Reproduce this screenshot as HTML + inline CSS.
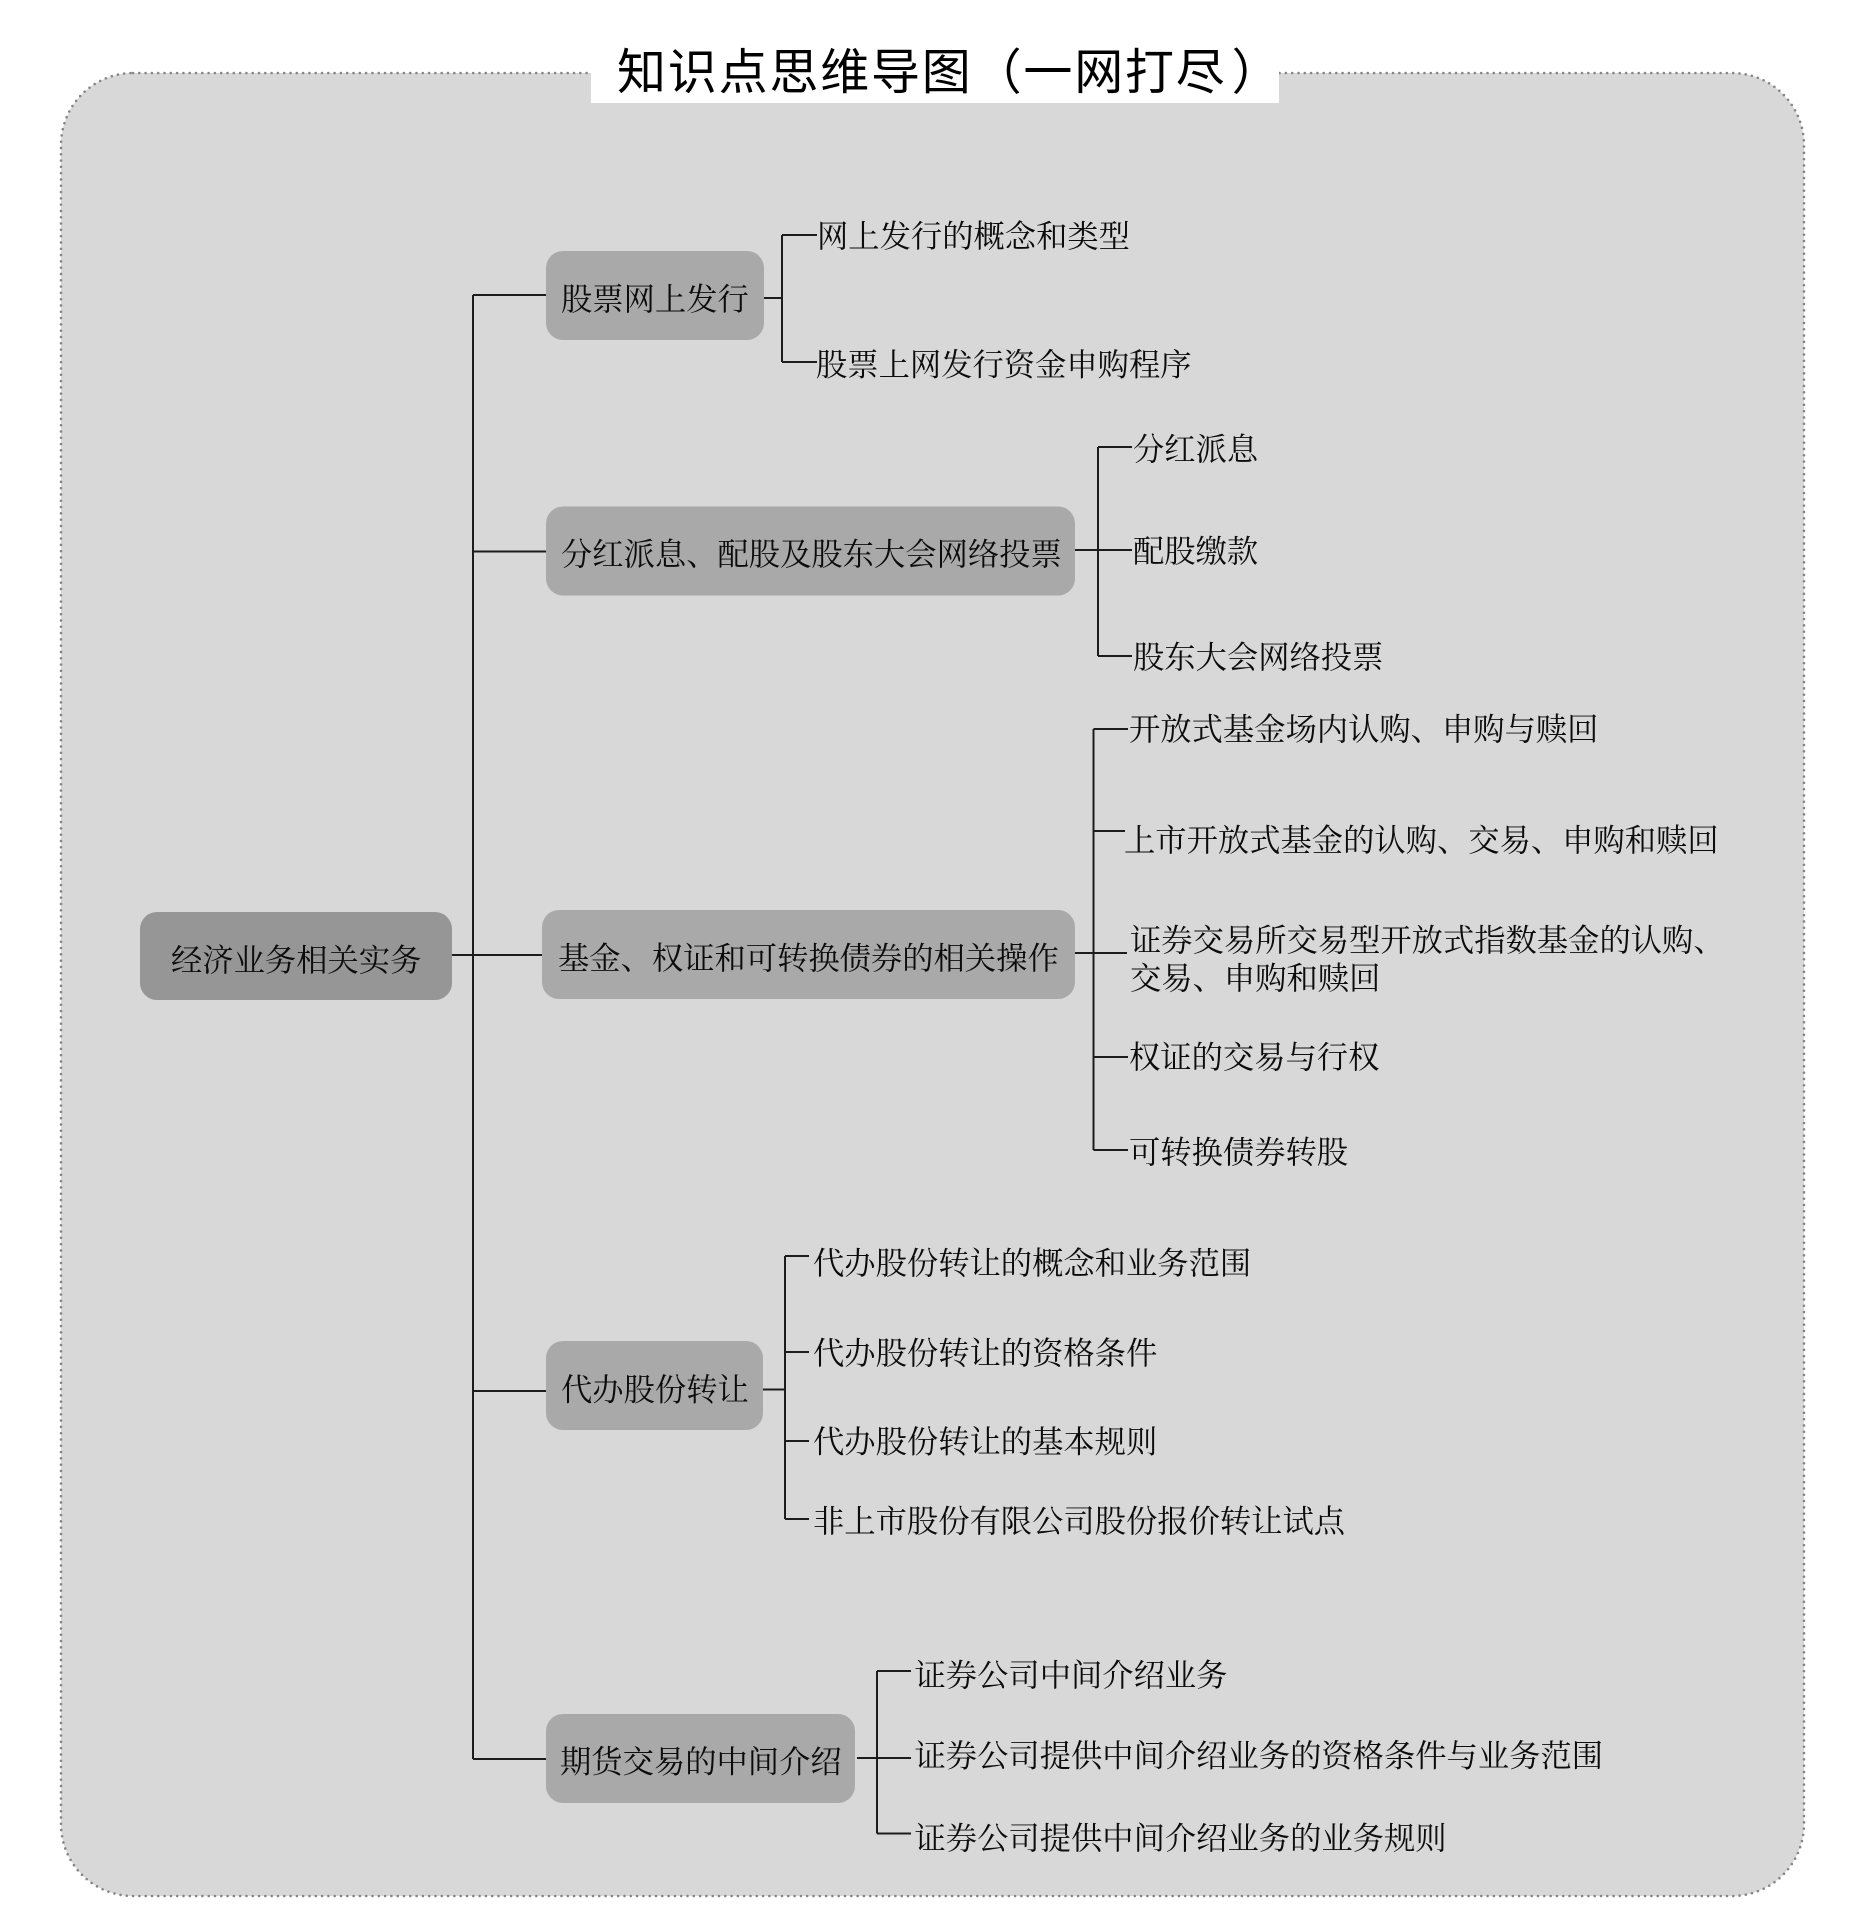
<!DOCTYPE html>
<html lang="zh-CN">
<head>
<meta charset="utf-8">
<title>知识点思维导图（一网打尽）</title>
<style>
html,body{margin:0;padding:0;background:#fff;width:1849px;height:1925px;overflow:hidden}
svg{display:block}
text{font-family:"Liberation Serif","Noto Serif CJK SC",serif;font-size:31.3px;fill:#0c0c0c}
.t{font-family:"Liberation Sans","Noto Sans CJK SC",sans-serif;font-size:49px;letter-spacing:1.8px;fill:#000}
.l{stroke:#1c1c1c;stroke-width:2;fill:none}
.b{fill:#a9a9a9}
</style>
</head>
<body>
<svg xmlns="http://www.w3.org/2000/svg" width="1849" height="1925" viewBox="0 0 1849 1925">
<rect x="61" y="73" width="1743" height="1823" rx="72" ry="72" fill="#d8d8d8" stroke="#858585" stroke-width="2.6" stroke-linecap="round" stroke-dasharray="0 6.3"/>
<rect x="591" y="40" width="688" height="63" fill="#fff"/>
<text class="t" x="617" y="89">知识点思维导图（一网打尽<tspan dx="5">）</tspan></text>

<path class="l" d="M473 295V1759M473 295H546M473 551.500H546M451 955H542M473 1391H546M473 1759H546"/>

<path class="l" d="M764 298H782M782 235V362M782 235H817M782 362H817"/>
<path class="l" d="M1075 550H1132M1098 447V656M1098 447H1132M1098 656H1132"/>
<path class="l" d="M1075 953H1127M1093.500 729V1150M1093.500 729H1128M1093.500 831H1125M1093.500 1057H1128M1093.500 1150H1128"/>
<path class="l" d="M763 1389.500H785M785 1256V1519M785 1256H809M785 1352H809M785 1441H809M785 1519H809"/>
<path class="l" d="M857 1758H911M877 1671V1833.500M877 1671H911M877 1833.500H911"/>

<rect x="140" y="912" width="312" height="88" rx="17" fill="#969696"/>
<rect class="b" x="546" y="251" width="218" height="89" rx="17"/>
<rect class="b" x="546" y="506.500" width="529" height="89" rx="17"/>
<rect class="b" x="542" y="910" width="533" height="89" rx="17"/>
<rect class="b" x="546" y="1341" width="217" height="89" rx="17"/>
<rect class="b" x="546" y="1714" width="309" height="89" rx="17"/>

<text x="171" y="971">经济业务相关实务</text>
<text x="561" y="310">股票网上发行</text>
<text x="561" y="565">分红派息、配股及股东大会网络投票</text>
<text x="558" y="969">基金、权证和可转换债券的相关操作</text>
<text x="561" y="1400.500">代办股份转让</text>
<text x="560" y="1772.500">期货交易的中间介绍</text>

<text x="817" y="247">网上发行的概念和类型</text>
<text x="816" y="375.500">股票上网发行资金申购程序</text>

<text x="1133" y="460">分红派息</text>
<text x="1133" y="562">配股缴款</text>
<text x="1133" y="668">股东大会网络投票</text>

<text x="1129" y="740">开放式基金场内认购、申购与赎回</text>
<text x="1124" y="851">上市开放式基金的认购、交易、申购和赎回</text>
<text x="1130" y="951">证券交易所交易型开放式指数基金的认购、</text>
<text x="1130" y="989">交易、申购和赎回</text>
<text x="1129" y="1068">权证的交易与行权</text>
<text x="1129" y="1163">可转换债券转股</text>

<text x="813" y="1274">代办股份转让的概念和业务范围</text>
<text x="813" y="1364">代办股份转让的资格条件</text>
<text x="813" y="1452.500">代办股份转让的基本规则</text>
<text x="813" y="1532">非上市股份有限公司股份报价转让试点</text>

<text x="914.500" y="1686">证券公司中间介绍业务</text>
<text x="914.500" y="1766.500">证券公司提供中间介绍业务的资格条件与业务范围</text>
<text x="914.500" y="1849">证券公司提供中间介绍业务的业务规则</text>
</svg>
</body>
</html>
